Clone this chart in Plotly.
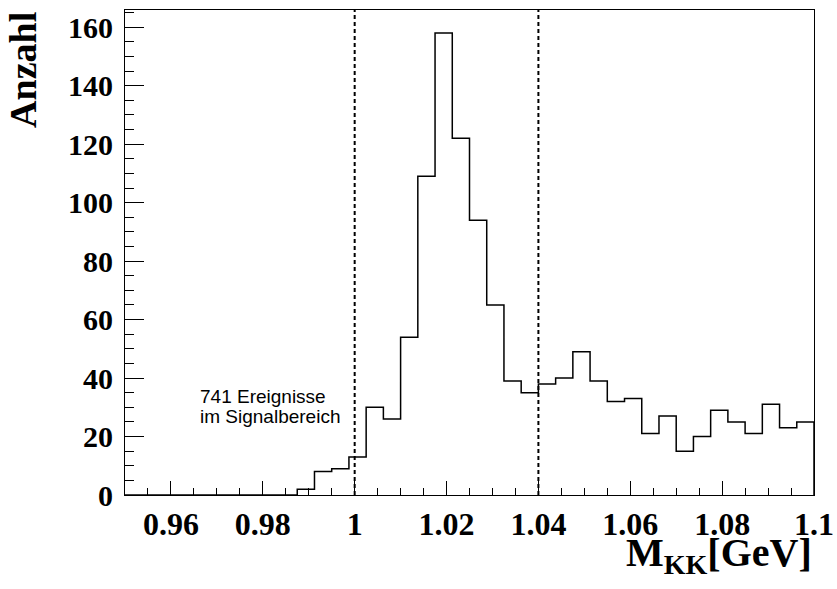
import plotly.graph_objects as go

# Histogram of the K+K- invariant mass, 40 bins from 0.95 to 1.1 GeV
x_lo, x_hi, n_bins = 0.95, 1.1, 40
counts = [0, 0, 0, 0, 0, 0, 0, 0, 0, 0,
          2, 8, 9, 13, 30, 26, 54, 109, 158, 122,
          94, 65, 39, 35, 38, 40, 49, 39, 32, 33,
          21, 27, 15, 20, 29, 25, 21, 31, 23, 25]

signal_window = [1.0, 1.04]
x_tick_vals = [0.96, 0.98, 1.0, 1.02, 1.04, 1.06, 1.08, 1.1]
x_tick_text = ["0.96", "0.98", "1", "1.02", "1.04", "1.06", "1.08", "1.1"]
y_tick_vals = [0, 20, 40, 60, 80, 100, 120, 140, 160]
note_lines = ["741 Ereignisse", "im Signalbereich"]

bin_w = (x_hi - x_lo) / n_bins
edges = [x_lo + i * bin_w for i in range(n_bins + 1)]

# step outline: each count held across its bin, closing down to zero at the right edge
step_x = edges + [x_hi]
step_y = counts + [counts[-1], 0]

y_max = 1.05 * max(counts)

serif = "Liberation Serif"

fig = go.Figure()
fig.add_trace(go.Scatter(
    x=step_x, y=step_y, mode="lines", line=dict(shape="hv", color="black", width=1.5),
    showlegend=False, hoverinfo="skip"))

for xv in signal_window:
    fig.add_shape(type="line", x0=xv, x1=xv, y0=0, y1=y_max, xref="x", yref="y",
                  line=dict(color="black", width=2, dash="4px,3px"))

# two-line note, one annotation per line for tight spacing
for line_text, y_pos in zip(note_lines, [33.7, 27.0]):
    fig.add_annotation(x=0.9659, y=y_pos, xref="x", yref="y", text=line_text,
                       showarrow=False, xanchor="left", yanchor="middle", align="left",
                       font=dict(family="Liberation Sans", size=19, color="black"))

fig.add_annotation(x=1.0, y=-0.069, xref="paper", yref="paper",
                   text="M<sub>KK</sub>[GeV]", showarrow=False,
                   xanchor="right", yanchor="top",
                   font=dict(family=serif, size=40, color="black", weight="bold"))

fig.add_annotation(x=-0.1481, y=0.8764, xref="paper", yref="paper",
                   text="Anzahl", textangle=-90, showarrow=False,
                   xanchor="center", yanchor="middle",
                   font=dict(family=serif, size=38, color="black", weight="bold"))

fig.update_xaxes(range=[x_lo, x_hi], tickmode="array", tickvals=x_tick_vals,
                 ticktext=x_tick_text, ticks="inside", ticklen=14, tickwidth=1,
                 tickcolor="black", showgrid=False, zeroline=False, automargin=False,
                 showline=True, linecolor="black", linewidth=1, mirror=True,
                 tickfont=dict(family=serif, size=32, color="black", weight="bold"),
                 ticklabelstandoff=1,
                 minor=dict(dtick=0.005, tick0=0.95, ticks="inside", ticklen=7,
                            tickcolor="black", tickwidth=1, showgrid=False))

fig.update_yaxes(range=[0, y_max], tickmode="array", tickvals=y_tick_vals,
                 ticks="inside", ticklen=19, tickwidth=1, tickcolor="black",
                 showgrid=False, zeroline=False, automargin=False,
                 showline=True, linecolor="black", linewidth=1, mirror=True,
                 tickfont=dict(family=serif, size=30, color="black", weight="bold"),
                 ticklabelstandoff=5,
                 minor=dict(dtick=5, tick0=0, ticks="inside", ticklen=9,
                            tickcolor="black", tickwidth=1, showgrid=False))

fig.update_layout(width=837, height=589, margin=dict(l=125, r=23, t=10, b=93.5),
                  paper_bgcolor="white", plot_bgcolor="white")

fig.write_html("out.html")
